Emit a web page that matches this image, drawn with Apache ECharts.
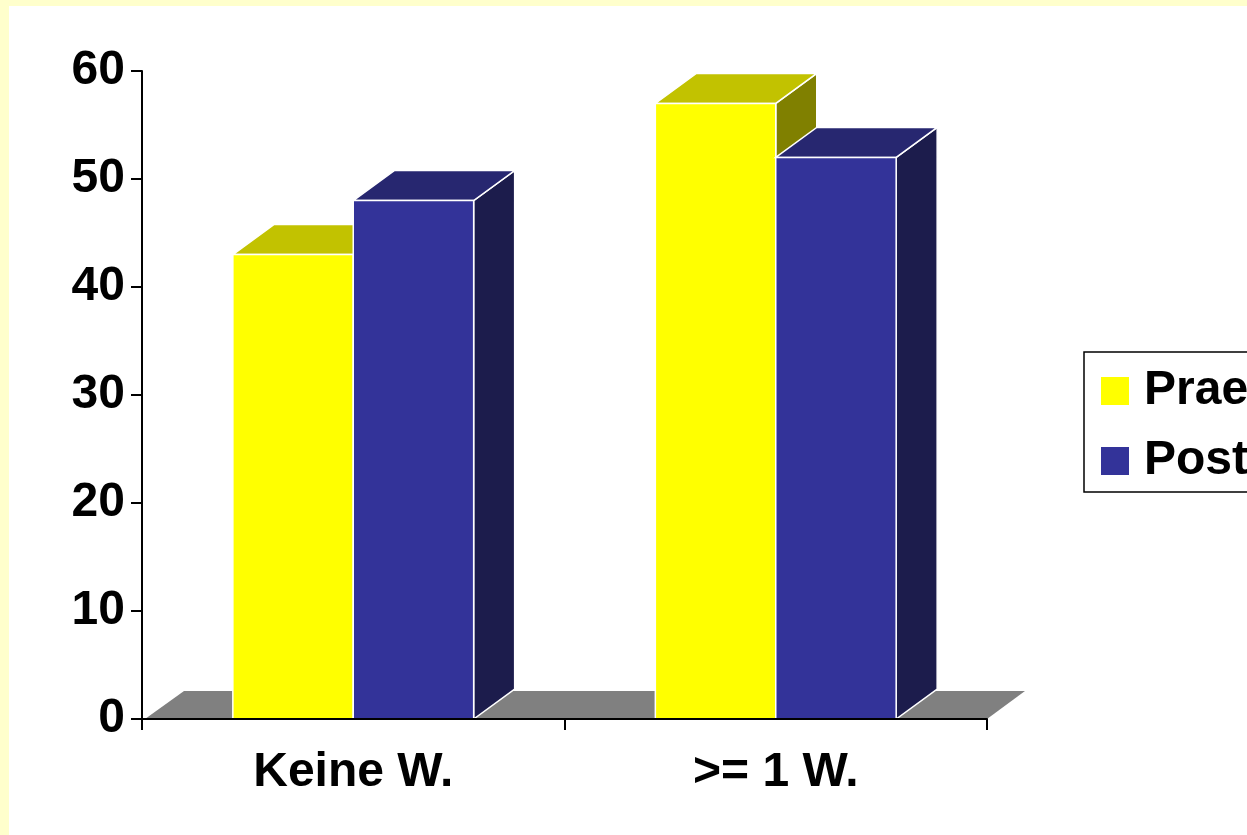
<!DOCTYPE html>
<html>
<head>
<meta charset="utf-8">
<script src="https://cdn.jsdelivr.net/npm/echarts@6/dist/echarts.min.js"></script>
<style>
  html, body { margin: 0; padding: 0; background: #FFFFCC; overflow: hidden; }
  #chart { position: absolute; left: 9px; top: 6px; width: 1238px; height: 829px; background: #fff; }
</style>
</head>
<body>
<div id="chart"></div>
<script>
const categories = ['Keine W.', '>= 1 W.'];
const praeValues = [43, 57];
const postValues = [48, 52];
const seriesNames = ['Prae', 'Post'];

// colours per series: front, top, side
const faces = [
  { front: '#FFFF00', top: '#C2C200', side: '#808000' },
  { front: '#333399', top: '#272770', side: '#1C1C4C' }
];
const DX = 41, DY = 30;
const FONT = 'Liberation Sans, Arial, sans-serif';

const chart = echarts.init(document.getElementById('chart'));

function barRenderer(seriesIdx) {
  return function (params, api) {
    const cat = api.value(0);
    const val = api.value(1);
    const band = api.size([1, 0])[0];
    const groupW = band * 0.57;
    const w = groupW / 2;
    const top = api.coord([cat, val]);
    const base = api.coord([cat, 0]);
    const x = top[0] - groupW / 2 + seriesIdx * w;
    const yT = top[1], y0 = base[1];
    const c = faces[seriesIdx];
    const edge = { stroke: '#fff', lineWidth: 1.5 };
    return {
      type: 'group',
      children: [
        { type: 'polygon', shape: { points: [[x + w, yT], [x + w + DX, yT - DY], [x + w + DX, y0 - DY], [x + w, y0]] },
          style: Object.assign({ fill: c.side }, edge) },
        { type: 'polygon', shape: { points: [[x, yT], [x + DX, yT - DY], [x + w + DX, yT - DY], [x + w, yT]] },
          style: Object.assign({ fill: c.top }, edge) },
        { type: 'rect', shape: { x: x, y: yT, width: w, height: y0 - yT },
          style: Object.assign({ fill: c.front }, edge) }
      ]
    };
  };
}

const option = {
  animation: false,
  grid: { left: 133, right: 260, top: 65, bottom: 116 },
  legend: {
    data: seriesNames,
    left: 1075,
    top: 346,
    orient: 'vertical',
    borderColor: '#000',
    borderWidth: 1.5,
    padding: [15, 30, 7, 17],
    itemGap: 22,
    itemWidth: 28,
    itemHeight: 28,
    icon: 'rect',
    selectedMode: false,
    textStyle: { fontFamily: FONT, fontWeight: 'bold', fontSize: 48, color: '#000', padding: [0, 0, 0, 10] }
  },
  xAxis: {
    type: 'category',
    data: categories,
    z: 10,
    axisLine: { lineStyle: { color: '#000', width: 2 } },
    axisTick: { show: true, length: 11, lineStyle: { color: '#000', width: 2 } },
    axisLabel: { fontFamily: FONT, fontWeight: 'bold', fontSize: 48, color: '#000', margin: 30 },
    splitLine: { show: false }
  },
  yAxis: {
    type: 'value',
    min: 0,
    max: 60,
    interval: 10,
    z: 10,
    axisLine: { show: true, lineStyle: { color: '#000', width: 2 } },
    axisTick: { show: true, length: 11, lineStyle: { color: '#000', width: 2 } },
    axisLabel: { fontFamily: FONT, fontWeight: 'bold', fontSize: 48, color: '#000', margin: 17 },
    splitLine: { show: false }
  },
  series: [
    {
      // floor of the 3D plot area
      type: 'custom',
      silent: true,
      z: 1,
      data: [[0, 0]],
      renderItem: function (params, api) {
        const cs = params.coordSys;
        const y0 = cs.y + cs.height;
        const x0 = cs.x, x1 = cs.x + cs.width;
        return {
          type: 'polygon',
          shape: { points: [[x0 + 3, y0], [x0 + DX + 1, y0 - 28], [x1 + DX - 3, y0 - 28], [x1, y0]] },
          style: { fill: '#808080' }
        };
      }
    },
    {
      name: seriesNames[0],
      type: 'custom',
      z: 2,
      itemStyle: { color: faces[0].front },
      data: praeValues.map((v, i) => [i, v]),
      renderItem: barRenderer(0)
    },
    {
      name: seriesNames[1],
      type: 'custom',
      z: 3,
      itemStyle: { color: faces[1].front },
      data: postValues.map((v, i) => [i, v]),
      renderItem: barRenderer(1)
    }
  ]
};
chart.setOption(option);
</script>
</body>
</html>
